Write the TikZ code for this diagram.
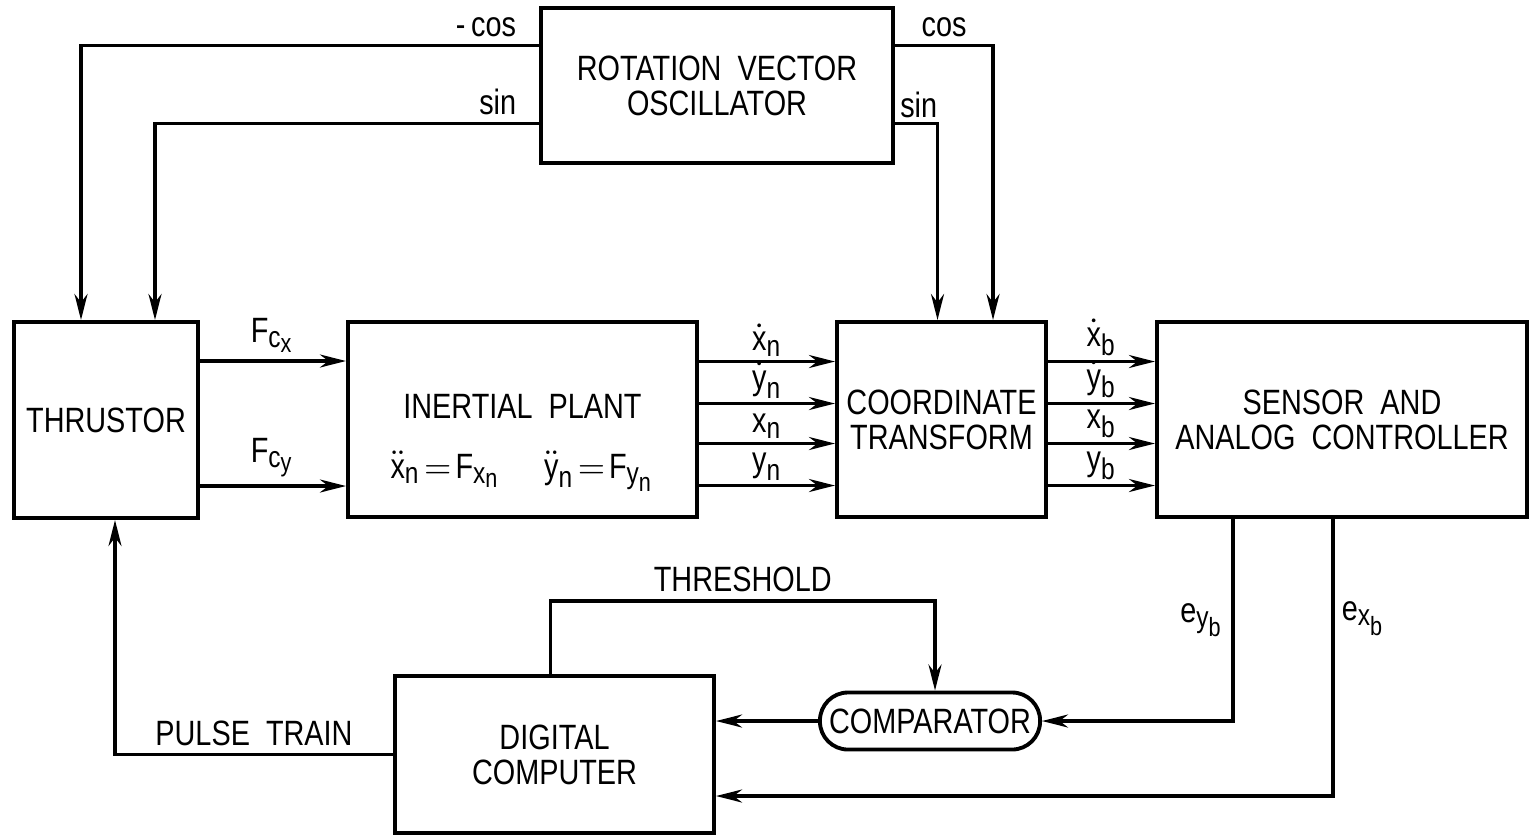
\documentclass[tikz,border=0pt]{standalone}
\usepackage{amsmath}
\usepackage{fontspec}
\setmainfont[FakeStretch=0.82]{Liberation Sans}
\usepackage{tikz}
\usetikzlibrary{arrows.meta,positioning,calc}
\DeclareMathSizes{10}{10}{8.5}{7.5}

\newcommand{\tv}[1]{\text{#1}}

\begin{document}
\begin{tikzpicture}[
    x=0.01cm, y=-0.01cm,
    font=\fontsize{10}{10}\selectfont,
    % boxes
    block/.style={draw, line width=1.1pt, align=center, inner sep=2pt},
    cmpbox/.style={draw, line width=1.1pt, rounded corners=2.8mm, inner sep=2pt,
                   minimum width=2.2cm, minimum height=0.57cm},
    % connectors
    sig/.style={line width=1pt, -{Stealth[length=2.6mm,width=1.3mm]}},
    lbl/.style={inner sep=2pt}
  ]
  \useasboundingbox (0,0) rectangle (1531,838);

  % blocks
  \node[block, minimum width=3.52cm, minimum height=1.55cm] (osc) at (717,85.5)
    {ROTATION\ \ VECTOR\\OSCILLATOR};
  \node[block, minimum width=1.84cm, minimum height=1.96cm] (thr) at (106,420) {THRUSTOR};
  \node[block, minimum width=3.49cm, minimum height=1.95cm] (plant) at (522.5,419.5) {};
  \node[anchor=base] (plantname) at ($(plant.center)+(0,-1.5)$) {INERTIAL\ \ PLANT};
  \node[anchor=base] (planteq) at ($(plant.center)+(0,58.5)$)
    {$\ddot{\tv{x}}_{\tv{n}}\!=\!\tv{F}_{\tv{x}_{\tv{n}}}\quad\ \ddot{\tv{y}}_{\tv{n}}\!=\!\tv{F}_{\tv{y}_{\tv{n}}}$};
  \node[block, minimum width=2.09cm, minimum height=1.95cm] (ct) at (941.5,419.5)
    {COORDINATE\\TRANSFORM};
  \node[block, minimum width=3.70cm, minimum height=1.95cm] (sens) at (1342,419.5)
    {SENSOR\ \ AND\\ANALOG\ \ CONTROLLER};
  \node[block, minimum width=3.19cm, minimum height=1.57cm] (dc) at (554.5,754.5)
    {DIGITAL\\COMPUTER};
  \node[cmpbox] (comp) at (930,721) {COMPARATOR};

  % oscillator outputs
  \draw[sig] ($(osc.west)+(0,-40)$) node[lbl, above left, xshift=-4pt] {-\,cos}
    -| ($(thr.north)+(-25,0)$);
  \draw[sig] ($(osc.west)+(0,38)$) node[lbl, above left, xshift=-4pt] {sin}
    -| ($(thr.north)+(49,0)$);
  \draw[sig] ($(osc.east)+(0,-40)$) -| node[lbl, pos=0.25, above] {cos}
    ($(ct.north)+(51.5,0)$);
  \draw[sig] ($(osc.east)+(0,38)$) node[lbl, above right, inner sep=1pt] {sin}
    -| ($(ct.north)+(-4,0)$);

  % thrust forces
  \draw[sig] ($(thr.east)+(0,-59)$) -- node[lbl, above] {$\tv{F}_{\tv{c}_{\tv{x}}}$}
    (plant.west |- {$(thr.east)+(0,-59)$});
  \draw[sig] ($(thr.east)+(0,66)$) -- node[lbl, above] {$\tv{F}_{\tv{c}_{\tv{y}}}$}
    (plant.west |- {$(thr.east)+(0,66)$});

  % states
  \foreach \dy/\sa/\sb in {-58/{\dot{\tv{x}}}/{\tv{n}}, -16/{\dot{\tv{y}}}/{\tv{n}},
                           24/{\tv{x}}/{\tv{n}}, 66/{\tv{y}}/{\tv{n}}}{
    \draw[sig] ($(plant.east)+(0,\dy)$) -- node[lbl, above, inner sep=1pt] {$\sa_{\sb}$}
      (ct.west |- {$(plant.east)+(0,\dy)$});
  }
  \foreach \dy/\sa/\sb in {-58/{\dot{\tv{x}}}/{\tv{b}}, -16/{\dot{\tv{y}}}/{\tv{b}},
                           24/{\tv{x}}/{\tv{b}}, 66/{\tv{y}}/{\tv{b}}}{
    \draw[sig] ($(ct.east)+(0,\dy)$) -- node[lbl, above, inner sep=1pt] {$\sa_{\sb}$}
      (sens.west |- {$(ct.east)+(0,\dy)$});
  }

  % feedback loop
  \draw[sig] (dc.west) -| node[lbl, pos=0.25, above] {PULSE\ \ TRAIN}
    ($(thr.south)+(9,0)$);
  \draw[sig] ($(dc.north)+(-4,0)$) -- ++(0,-73) -| node[lbl, pos=0.25, above] {THRESHOLD}
    ($(comp.north)+(5,0)$);
  \draw[sig] (comp.west) -- (dc.east |- comp.west);
  \draw[sig] ($(sens.south)+(-109,0)$) |- node[lbl, pos=0.25, left] {$\tv{e}_{\tv{y}_{\tv{b}}}$}
    (comp.east);
  \draw[sig] ($(sens.south)+(-9,0)$) |- node[lbl, pos=0.18, right] {$\tv{e}_{\tv{x}_{\tv{b}}}$}
    ($(dc.east)+(0,41.5)$);
\end{tikzpicture}
\end{document}
